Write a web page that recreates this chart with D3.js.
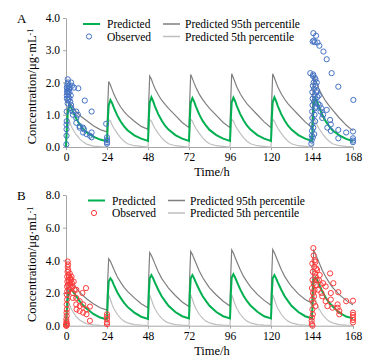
<!DOCTYPE html>
<html>
  <head>
    <title>Concentration-time profiles</title>
    <script type="text/javascript" src="https://d3js.org/d3.v7.min.js"></script>
    <style>
      body { margin: 0; background: #fff; }
      svg text { font-family: "Liberation Serif", "Times New Roman", serif; fill: #000; }
      .axis path, .axis line { stroke: #a6a6a6; }
      .axis text { font-size: 11.5px; }
    </style>
  </head>
  <body>
    <svg width="380" height="361" class="chart"></svg>

    <script type="text/javascript">
      // dosing every 24 h, curve sampled at these offsets (h) inside each interval
      var doseTimes = [0, 24, 48, 72, 96, 120, 144];
      var offsets = [0, 0.5, 1, 2, 3, 4, 6, 8, 10, 12, 16, 20];
      var xTicks = [0, 24, 48, 72, 96, 120, 144, 168];

      // panel A - predicted median / 95th / 5th percentile, one row per dosing interval
      var predA = [
        [0, 0.6, 1.05, 1.3, 1.22, 1.1, 0.88, 0.7, 0.57, 0.46, 0.32, 0.23],
        [0.18, 0.85, 1.3, 1.46, 1.36, 1.22, 0.98, 0.79, 0.64, 0.52, 0.36, 0.26],
        [0.19, 0.9, 1.38, 1.54, 1.42, 1.27, 1.02, 0.82, 0.66, 0.54, 0.37, 0.26],
        [0.19, 0.9, 1.37, 1.52, 1.41, 1.26, 1.01, 0.81, 0.66, 0.53, 0.37, 0.26],
        [0.19, 0.9, 1.38, 1.53, 1.42, 1.27, 1.02, 0.82, 0.66, 0.54, 0.37, 0.26],
        [0.19, 0.91, 1.39, 1.54, 1.42, 1.27, 1.02, 0.82, 0.66, 0.54, 0.37, 0.26],
        [0.19, 0.88, 1.36, 1.51, 1.4, 1.25, 1.0, 0.8, 0.65, 0.52, 0.36, 0.25]
      ];
      var predAEnd = 0.18;
      var p95A = [
        [0, 0.7, 1.2, 1.35, 1.32, 1.25, 1.1, 0.98, 0.9, 0.82, 0.66, 0.54],
        [0.47, 1.4, 2.03, 1.92, 1.78, 1.64, 1.42, 1.24, 1.1, 0.98, 0.8, 0.64],
        [0.55, 1.5, 2.2, 2.1, 1.95, 1.82, 1.62, 1.45, 1.32, 1.2, 0.98, 0.76],
        [0.6, 1.55, 2.25, 2.12, 1.98, 1.85, 1.64, 1.47, 1.33, 1.2, 0.98, 0.76],
        [0.6, 1.55, 2.27, 2.14, 2.0, 1.86, 1.65, 1.48, 1.34, 1.22, 1.0, 0.78],
        [0.6, 1.55, 2.27, 2.14, 2.0, 1.86, 1.65, 1.48, 1.34, 1.22, 1.0, 0.78],
        [0.6, 1.5, 2.2, 2.08, 1.95, 1.8, 1.6, 1.42, 1.28, 1.15, 0.9, 0.68]
      ];
      var p95AEnd = 0.5;
      var p5A = [
        [0, 0.55, 0.9, 0.8, 0.66, 0.55, 0.38, 0.25, 0.16, 0.09, 0.03, 0.01],
        [0, 0.55, 0.85, 0.8, 0.68, 0.58, 0.42, 0.28, 0.18, 0.1, 0.04, 0.02],
        [0, 0.55, 0.85, 0.8, 0.68, 0.58, 0.42, 0.28, 0.18, 0.1, 0.04, 0.02],
        [0, 0.55, 0.86, 0.8, 0.68, 0.58, 0.42, 0.28, 0.18, 0.1, 0.04, 0.02],
        [0, 0.55, 0.86, 0.8, 0.68, 0.58, 0.42, 0.28, 0.18, 0.1, 0.04, 0.02],
        [0, 0.55, 0.86, 0.8, 0.68, 0.58, 0.42, 0.28, 0.18, 0.1, 0.04, 0.02],
        [0, 0.55, 0.85, 0.8, 0.68, 0.58, 0.42, 0.28, 0.18, 0.1, 0.04, 0.02]
      ];
      var p5AEnd = 0.01;

      // panel A - observed
      var obsATime = [0.2, 0.3, 0.3, 0.3, 0.4, 0.4, 0.5, 0.5, 0.6, 0.7, 0.5, 0.8, 1.0, 1.2, 1.0, 1.3, 1.5, 1.2, 1.0, 1.5,
        1.8, 2.0, 2.0, 2.2, 2.5, 2.8, 3.0, 3.0, 3.0, 3.5, 4.0, 4.0, 4.7, 6.0, 6.0, 6.0, 7.0, 7.2, 8.0, 8.0,
        10.0, 10.0, 10.5, 11.0, 12.0, 14.0, 15.0, 15.0, 15.0, 23.5, 24, 24, 24, 24,
        143.6, 143.8, 143.9, 144, 144, 144.2, 144.1, 144.3, 144.4, 144.2, 144.5, 144.6, 145, 145.2, 145.5, 145.2, 145.8, 145.5,
        146, 146.2, 146.5, 146, 146.8, 147, 147.2, 147.5, 146.3, 145.8, 144.8, 144.5, 145.3, 143, 144.7, 145.6,
        148, 148.5, 149, 149.5, 150, 150.5, 152.6, 154.6, 153, 155, 155, 159.4, 159.4, 164, 168, 168, 168, 168,
        144.8, 146.4, 144.4, 147.2, 148.3, 150.7, 152.6, 155.5, 159.4, 145, 145.6, 168.2];
      var obsAConc = [0.08, 0.35, 0.55, 0.7, 0.8, 1.1, 1.5, 1.6, 1.7, 1.8, 1.85, 1.95, 2.1, 2.0, 1.75, 1.65, 1.55, 1.45, 1.35, 1.9,
        1.8, 1.7, 1.5, 1.85, 1.4, 1.6, 1.3, 1.2, 2.0, 1.9, 1.1, 1.0, 1.84, 1.1, 0.9, 0.75, 1.0, 1.82, 0.6, 0.65,
        0.6, 0.45, 0.55, 1.44, 0.4, 0.35, 1.1, 0.45, 0.3, 0.72, 0.3, 0.22, 0.15, 0.1,
        0.1, 0.2, 0.35, 0.5, 0.7, 0.9, 1.1, 1.3, 1.5, 1.7, 1.9, 2.2, 2.0, 1.8, 1.6, 1.4, 1.2, 1.0,
        2.1, 1.9, 1.7, 1.5, 2.0, 1.75, 1.55, 1.35, 1.25, 0.8, 0.6, 0.3, 0.4, 2.29, 2.25, 2.15,
        1.6, 1.3, 1.1, 1.2, 0.9, 1.0, 1.15, 0.84, 0.6, 0.7, 0.5, 0.53, 0.27, 0.45, 0.48, 0.27, 0.2, 0.15,
        3.53, 3.45, 3.27, 3.24, 3.14, 2.96, 2.72, 2.29, 1.87, 3.3, 3.25, 1.46];

      // panel B - predicted median / 95th / 5th percentile
      var predB = [
        [0, 0.9, 1.6, 2.15, 2.2, 2.1, 1.8, 1.5, 1.25, 1.05, 0.72, 0.5],
        [0.38, 1.9, 2.7, 2.9, 2.75, 2.5, 2.05, 1.7, 1.4, 1.15, 0.8, 0.55],
        [0.42, 2.0, 2.9, 3.1, 2.9, 2.65, 2.2, 1.8, 1.5, 1.22, 0.84, 0.58],
        [0.45, 2.0, 2.9, 3.1, 2.9, 2.65, 2.2, 1.8, 1.5, 1.22, 0.84, 0.58],
        [0.45, 2.0, 2.95, 3.15, 2.95, 2.7, 2.22, 1.82, 1.5, 1.23, 0.85, 0.58],
        [0.45, 2.0, 2.9, 3.1, 2.9, 2.65, 2.2, 1.8, 1.5, 1.22, 0.84, 0.58],
        [0.45, 2.0, 2.8, 2.95, 2.8, 2.55, 2.1, 1.72, 1.42, 1.18, 0.8, 0.56]
      ];
      var predBEnd = 0.45;
      var p95B = [
        [0, 1.4, 2.3, 2.7, 2.65, 2.55, 2.3, 2.05, 1.85, 1.65, 1.35, 1.1],
        [0.95, 3.0, 4.1, 3.95, 3.7, 3.45, 3.0, 2.65, 2.35, 2.1, 1.7, 1.35],
        [1.1, 3.2, 4.48, 4.3, 4.05, 3.8, 3.3, 2.9, 2.6, 2.3, 1.85, 1.45],
        [1.17, 3.3, 4.54, 4.35, 4.1, 3.85, 3.35, 2.95, 2.62, 2.32, 1.88, 1.5],
        [1.2, 3.3, 4.64, 4.45, 4.18, 3.92, 3.42, 3.0, 2.68, 2.38, 1.92, 1.55],
        [1.25, 3.3, 4.66, 4.46, 4.2, 3.94, 3.44, 3.02, 2.7, 2.4, 1.95, 1.6],
        [1.38, 3.3, 4.6, 4.4, 4.15, 3.9, 3.4, 3.0, 2.65, 2.35, 1.9, 1.55]
      ];
      var p95BEnd = 1.27;
      var p5B = [
        [0, 1.0, 1.5, 1.3, 1.05, 0.85, 0.55, 0.35, 0.22, 0.13, 0.05, 0.02],
        [0, 1.3, 1.88, 1.6, 1.3, 1.05, 0.7, 0.45, 0.28, 0.17, 0.07, 0.03],
        [0, 1.3, 1.88, 1.6, 1.3, 1.05, 0.7, 0.45, 0.28, 0.17, 0.07, 0.03],
        [0, 1.3, 1.9, 1.6, 1.3, 1.05, 0.7, 0.45, 0.28, 0.17, 0.07, 0.03],
        [0, 1.3, 1.9, 1.6, 1.3, 1.05, 0.7, 0.45, 0.28, 0.17, 0.07, 0.03],
        [0, 1.3, 1.9, 1.6, 1.3, 1.05, 0.7, 0.45, 0.28, 0.17, 0.07, 0.03],
        [0, 1.3, 1.88, 1.6, 1.3, 1.05, 0.7, 0.45, 0.28, 0.17, 0.07, 0.03]
      ];
      var p5BEnd = 0.02;

      // panel B - observed
      var obsBTime = [0.1, 0.2, 0.3, 0.2, 0.4, 0.3, 0.5, 0.4, 0.6, 0.5, 0.7, 0.6, 0.8, 0.7, 0.9, 1.0, 1.0, 1.2, 1.3, 1.5,
        1.4, 1.2, 1.6, 1.8, 2.0, 2.0, 2.2, 2.5, 2.5, 3.0, 3.0, 3.2, 3.5, 4.0, 4.0, 4.0, 4.5, 5.0, 6.0, 6.0,
        6.0, 6.2, 8.0, 8.0, 8.0, 9.6, 10.0, 10.0, 11.7, 12.0, 12.0, 14.0, 14.0, 24, 24, 24, 24, 24, 0.3, 0.1, 0.5,
        144.8, 145, 145.5, 144.2, 145.3, 146, 146.5, 144.5, 145.8, 146.2, 144.3, 145, 146.8, 147, 144, 145.5, 144.6, 146.4,
        145.2, 144.1, 144.8, 146, 144.2, 144.5, 144, 143.8, 143.9, 144.3, 147.5, 148, 148.5, 149, 149.5, 150, 150.5,
        152, 152, 153, 154.6, 155, 155, 156.5, 156, 159.4, 159, 159, 160, 160, 164, 168, 168, 168, 168, 168, 168];
      var obsBConc = [0.05, 0.15, 0.25, 0.4, 0.6, 0.8, 1.0, 1.3, 1.6, 1.9, 2.1, 2.4, 2.7, 3.0, 3.3, 3.6, 3.93, 3.75, 3.4, 3.1,
        2.8, 2.5, 2.2, 3.0, 2.7, 2.4, 3.2, 2.9, 2.6, 2.8, 2.3, 3.0, 2.6, 2.4, 2.0, 1.7, 2.7, 2.2, 2.2, 1.7,
        1.3, 1.0, 1.5, 1.2, 0.9, 2.0, 1.3, 0.8, 2.3, 1.0, 0.7, 1.17, 0.3, 0.7, 0.55, 0.4, 0.2, 0.1, 0.0, 0.0, 0.1,
        4.75, 4.3, 4.0, 3.8, 3.6, 3.9, 3.5, 3.3, 3.2, 3.0, 2.8, 2.6, 2.8, 3.4, 2.3, 2.2, 2.0, 2.5,
        1.8, 1.6, 1.4, 1.2, 1.0, 0.7, 0.5, 0.3, 0.1, 0.0, 2.2, 2.8, 3.1, 2.5, 2.0, 1.8, 2.6,
        1.5, 2.4, 1.2, 3.2, 2.0, 1.6, 2.6, 1.1, 2.05, 1.3, 1.1, 0.9, 0.7, 1.5, 1.53, 0.8, 0.66, 0.5, 0.35, 0.2];

      var green = '#00b050', darkGray = '#7f7f7f', lightGray = '#bfbfbf';

      var svg = d3.select('svg.chart');
      var x = d3.scaleLinear().domain([0, 168]).range([66, 353]);

      // turns the per-interval rows into [time, conc] points
      function toPoints(rows, endValue) {
        var pts = [];
        rows.forEach(function(row, i) {
          row.forEach(function(v, j) { pts.push([doseTimes[i] + offsets[j], v]); });
        });
        pts.push([168, endValue]);
        return pts;
      }

      function drawPanel(p) {
        var y = d3.scaleLinear().domain([0, p.yMax]).range([p.bottom, p.top]);
        var g = svg.append('g');

        g.append('g')
         .attr('class', 'axis')
         .attr('transform', 'translate(0,' + p.bottom + ')')
         .call(d3.axisBottom(x).tickValues(xTicks).tickSize(3).tickSizeOuter(0));

        g.append('g')
         .attr('class', 'axis')
         .attr('transform', 'translate(' + x(0) + ',0)')
         .call(d3.axisLeft(y).ticks(4).tickSize(3).tickSizeOuter(0).tickFormat(d3.format('.1f')));

        var line = d3.line()
                     .x(function(d) { return x(d[0]); })
                     .y(function(d) { return y(d[1]); });

        var curves = [
          { pts: toPoints(p.p5, p.p5End), color: lightGray, w: 1.2 },
          { pts: toPoints(p.p95, p.p95End), color: darkGray, w: 1.2 },
          { pts: toPoints(p.pred, p.predEnd), color: green, w: 2 }
        ];
        g.selectAll('path.curve')
         .data(curves)
         .enter()
         .append('path')
         .attr('class', 'curve')
         .attr('d', function(d) { return line(d.pts); })
         .attr('fill', 'none')
         .attr('stroke', function(d) { return d.color; })
         .attr('stroke-width', function(d) { return d.w; });

        g.selectAll('circle.obs')
         .data(p.obsTime)
         .enter()
         .append('circle')
         .attr('class', 'obs')
         .attr('cx', function(d) { return x(d); })
         .attr('cy', function(d, i) { return y(p.obsConc[i]); })
         .attr('r', 2.6)
         .attr('fill', 'none')
         .attr('stroke', p.obsColor)
         .attr('stroke-width', 1);

        // panel letter
        g.append('text')
         .attr('x', 17).attr('y', p.top + 5)
         .style('font-size', '13px')
         .text(p.letter);

        // axis titles
        g.append('text')
         .attr('x', 212).attr('y', p.bottom + 29)
         .attr('text-anchor', 'middle')
         .style('font-size', '12.5px')
         .text('Time/h');

        var yt = g.append('text')
                  .attr('transform', 'translate(36,' + ((p.top + p.bottom) / 2 + 4) + ') rotate(-90)')
                  .attr('text-anchor', 'middle')
                  .style('font-size', '12.5px');
        yt.append('tspan').text('Concentration/μg·mL');
        yt.append('tspan').attr('dy', '-0.4em').style('font-size', '8px').text('-1');

        // legend
        var lx = p.legendX, ly = p.legendY;
        var lg = g.append('g').attr('transform', 'translate(' + lx + ',' + ly + ')').style('font-size', '11.5px');
        lg.append('line').attr('x1', 0).attr('x2', 17).attr('y1', 0).attr('y2', 0)
          .attr('stroke', green).attr('stroke-width', 2);
        lg.append('text').attr('x', 24).attr('y', 4).text('Predicted');
        lg.append('circle').attr('cx', 6).attr('cy', 12.5).attr('r', 2.6)
          .attr('fill', 'none').attr('stroke', p.obsColor);
        lg.append('text').attr('x', 24).attr('y', 16.5).text('Observed');
        lg.append('line').attr('x1', 80).attr('x2', 97).attr('y1', 0).attr('y2', 0)
          .attr('stroke', darkGray).attr('stroke-width', 1.5);
        lg.append('text').attr('x', 102).attr('y', 4).text('Predicted 95th percentile');
        lg.append('line').attr('x1', 80).attr('x2', 97).attr('y1', 12.5).attr('y2', 12.5)
          .attr('stroke', lightGray).attr('stroke-width', 1.5);
        lg.append('text').attr('x', 102).attr('y', 16.5).text('Predicted 5th percentile');
      }

      drawPanel({
        letter: 'A', top: 18, bottom: 147, yMax: 4,
        pred: predA, predEnd: predAEnd, p95: p95A, p95End: p95AEnd, p5: p5A, p5End: p5AEnd,
        obsTime: obsATime, obsConc: obsAConc, obsColor: '#4472c4',
        legendX: 83, legendY: 24
      });

      drawPanel({
        letter: 'B', top: 195, bottom: 325.7, yMax: 8,
        pred: predB, predEnd: predBEnd, p95: p95B, p95End: p95BEnd, p5: p5B, p5End: p5BEnd,
        obsTime: obsBTime, obsConc: obsBConc, obsColor: '#ff3b3b',
        legendX: 88, legendY: 200.5
      });
    </script>
  </body>
</html>
